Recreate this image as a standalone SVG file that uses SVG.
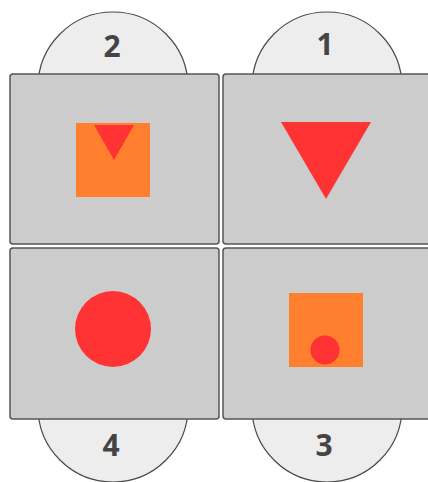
<svg xmlns="http://www.w3.org/2000/svg" width="428" height="482" viewBox="0 0 428 482">
<style>
.tab{fill:#eeedee;stroke:#4a4a4a;stroke-width:1.2}
.panel{fill:#cccccc;stroke:#555555;stroke-width:1.5}
.num{font-family:"Open Sans","Liberation Sans",sans-serif;font-weight:bold;font-size:30px;fill:#444444;text-anchor:middle}
.red{fill:#ff3333}
.orange{fill:#ff7f2f}
</style>
<rect width="428" height="482" fill="#ffffff"/>
<g id="panel2">
<circle class="tab" cx="113" cy="87" r="75"/>
<text class="num" x="112" y="57">2</text>
<rect class="panel" x="10" y="74" width="209" height="170" rx="3"/>
<rect class="orange" x="76" y="123" width="74" height="74"/>
<polygon class="red" points="94,125 134,125 114,160"/>
</g>
<g id="panel1">
<circle class="tab" cx="327" cy="87" r="75"/>
<text class="num" x="325" y="55">1</text>
<rect class="panel" x="223" y="74" width="209" height="170" rx="3"/>
<polygon class="red" points="281,122 371,122 326,199"/>
</g>
<g id="panel4">
<circle class="tab" cx="113" cy="407" r="75"/>
<text class="num" x="111" y="456">4</text>
<rect class="panel" x="10" y="248" width="209" height="171" rx="3"/>
<circle class="red" cx="113" cy="329" r="38"/>
</g>
<g id="panel3">
<circle class="tab" cx="327" cy="407" r="75"/>
<text class="num" x="324" y="456">3</text>
<rect class="panel" x="223" y="248" width="209" height="171" rx="3"/>
<rect class="orange" x="289" y="293" width="74" height="74"/>
<circle class="red" cx="325" cy="350" r="14.5"/>
</g>
<g id="connectors"/>
</svg>
